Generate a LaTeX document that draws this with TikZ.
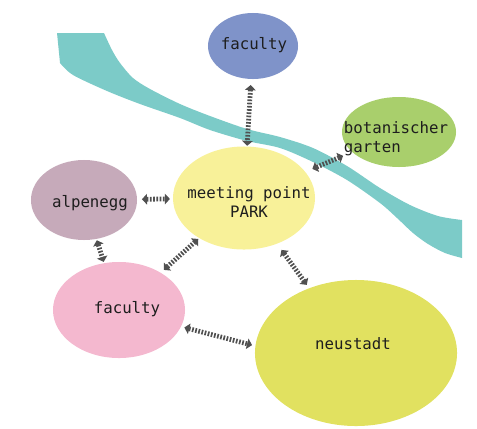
\documentclass[tikz,border=0pt]{standalone}
\usepackage{fontspec}
\setmonofont{DejaVu Sans Mono}
\usetikzlibrary{shapes.geometric,arrows.meta}
\definecolor{riverteal}{HTML}{7CCBC8}
\definecolor{facblue}{HTML}{7F93C9}
\definecolor{botgreen}{HTML}{A9CF6C}
\definecolor{alpmauve}{HTML}{C6AABA}
\definecolor{parkyellow}{HTML}{F8F199}
\definecolor{facpink}{HTML}{F4B8CF}
\definecolor{neulime}{HTML}{E1E160}
\definecolor{linkgray}{HTML}{505050}
\definecolor{txtgray}{HTML}{1E1E1E}
\tikzset{
  place/.style={ellipse, inner sep=0pt, outer sep=0pt},
  lbl/.style={font=\ttfamily\fontsize{11.2}{13.5}\selectfont, text=txtgray, inner sep=0pt},
  link/.style={draw=linkgray, line width=3.4pt, dash pattern=on 1.2pt off 1.1pt,
    {Triangle[width=7.5pt,length=3.6pt]}-{Triangle[width=7.5pt,length=3.6pt]}}
}
\begin{document}
\begin{tikzpicture}[x=0.025cm, y=-0.025cm]
    \useasboundingbox (0,0) rectangle (477,428);
    % River
    \fill[riverteal] (57,33) -- (104,33)
      -- plot[smooth] coordinates {(104,33) (112,50) (120,63) (133,78) (150,89)
        (180,104) (210,116) (247,129) (280,137) (313,148) (347,166) (380,188)
        (410,205) (438,216) (462,220)}
      -- (462,258)
      -- plot[smooth] coordinates {(462,258) (445,253) (428,244) (413,233)
        (397,218) (380,203) (347,180) (313,162) (280,148) (247,141) (210,130)
        (180,118) (140,104) (107,91) (73,75) (60,63)}
      -- cycle;
    % Places
    \node[place, fill=facblue, minimum width=2.25cm, minimum height=1.65cm] (fact) at (253,46) {};
    \node[place, fill=botgreen, minimum width=2.85cm, minimum height=1.75cm] (bota) at (399,132) {};
    \node[place, fill=alpmauve, minimum width=2.65cm, minimum height=2cm] (alpe) at (84,200) {};
    \node[place, fill=parkyellow, minimum width=3.55cm, minimum height=2.575cm] (park) at (244,198) {};
    \node[place, fill=facpink, minimum width=3.3cm, minimum height=2.4cm] (facb) at (119,310) {};
    \node[place, fill=neulime, minimum width=5.05cm, minimum height=3.65cm] (neus) at (356,353) {};
    % Labels
    \node[lbl] (factl) at (254,45) {faculty};
    \node[lbl, align=left] (botal) at (396,139) {botanischer\\garten};
    \node[lbl] (alpel) at (90,203) {alpenegg};
    \node[lbl, align=center] (parkl) at (249,202) {meeting point\\PARK};
    \node[lbl] (facbl) at (127,309) {faculty};
    \node[lbl] (neusl) at (353,344) {neustadt};
    % Links
    \draw[link, shorten <=4.3pt, shorten >=0.5pt] (fact) -- (park);
    \draw[link, shorten <=5.5pt, shorten >=7pt] (park) -- (bota);
    \draw[link, shorten <=3.5pt, shorten >=2.2pt] (alpe) -- (park);
    \draw[link, shorten <=1pt, shorten >=1pt] (alpe) -- (facb);
    \draw[link, shorten <=3pt, shorten >=1pt] (facb) -- (park);
    \draw[link, shorten <=5.5pt, shorten >=3pt] (park) -- (neus);
    \draw[link, shorten <=2.5pt, shorten >=2.5pt] (facb.-15) -- (neus.176);
\end{tikzpicture}
\end{document}
